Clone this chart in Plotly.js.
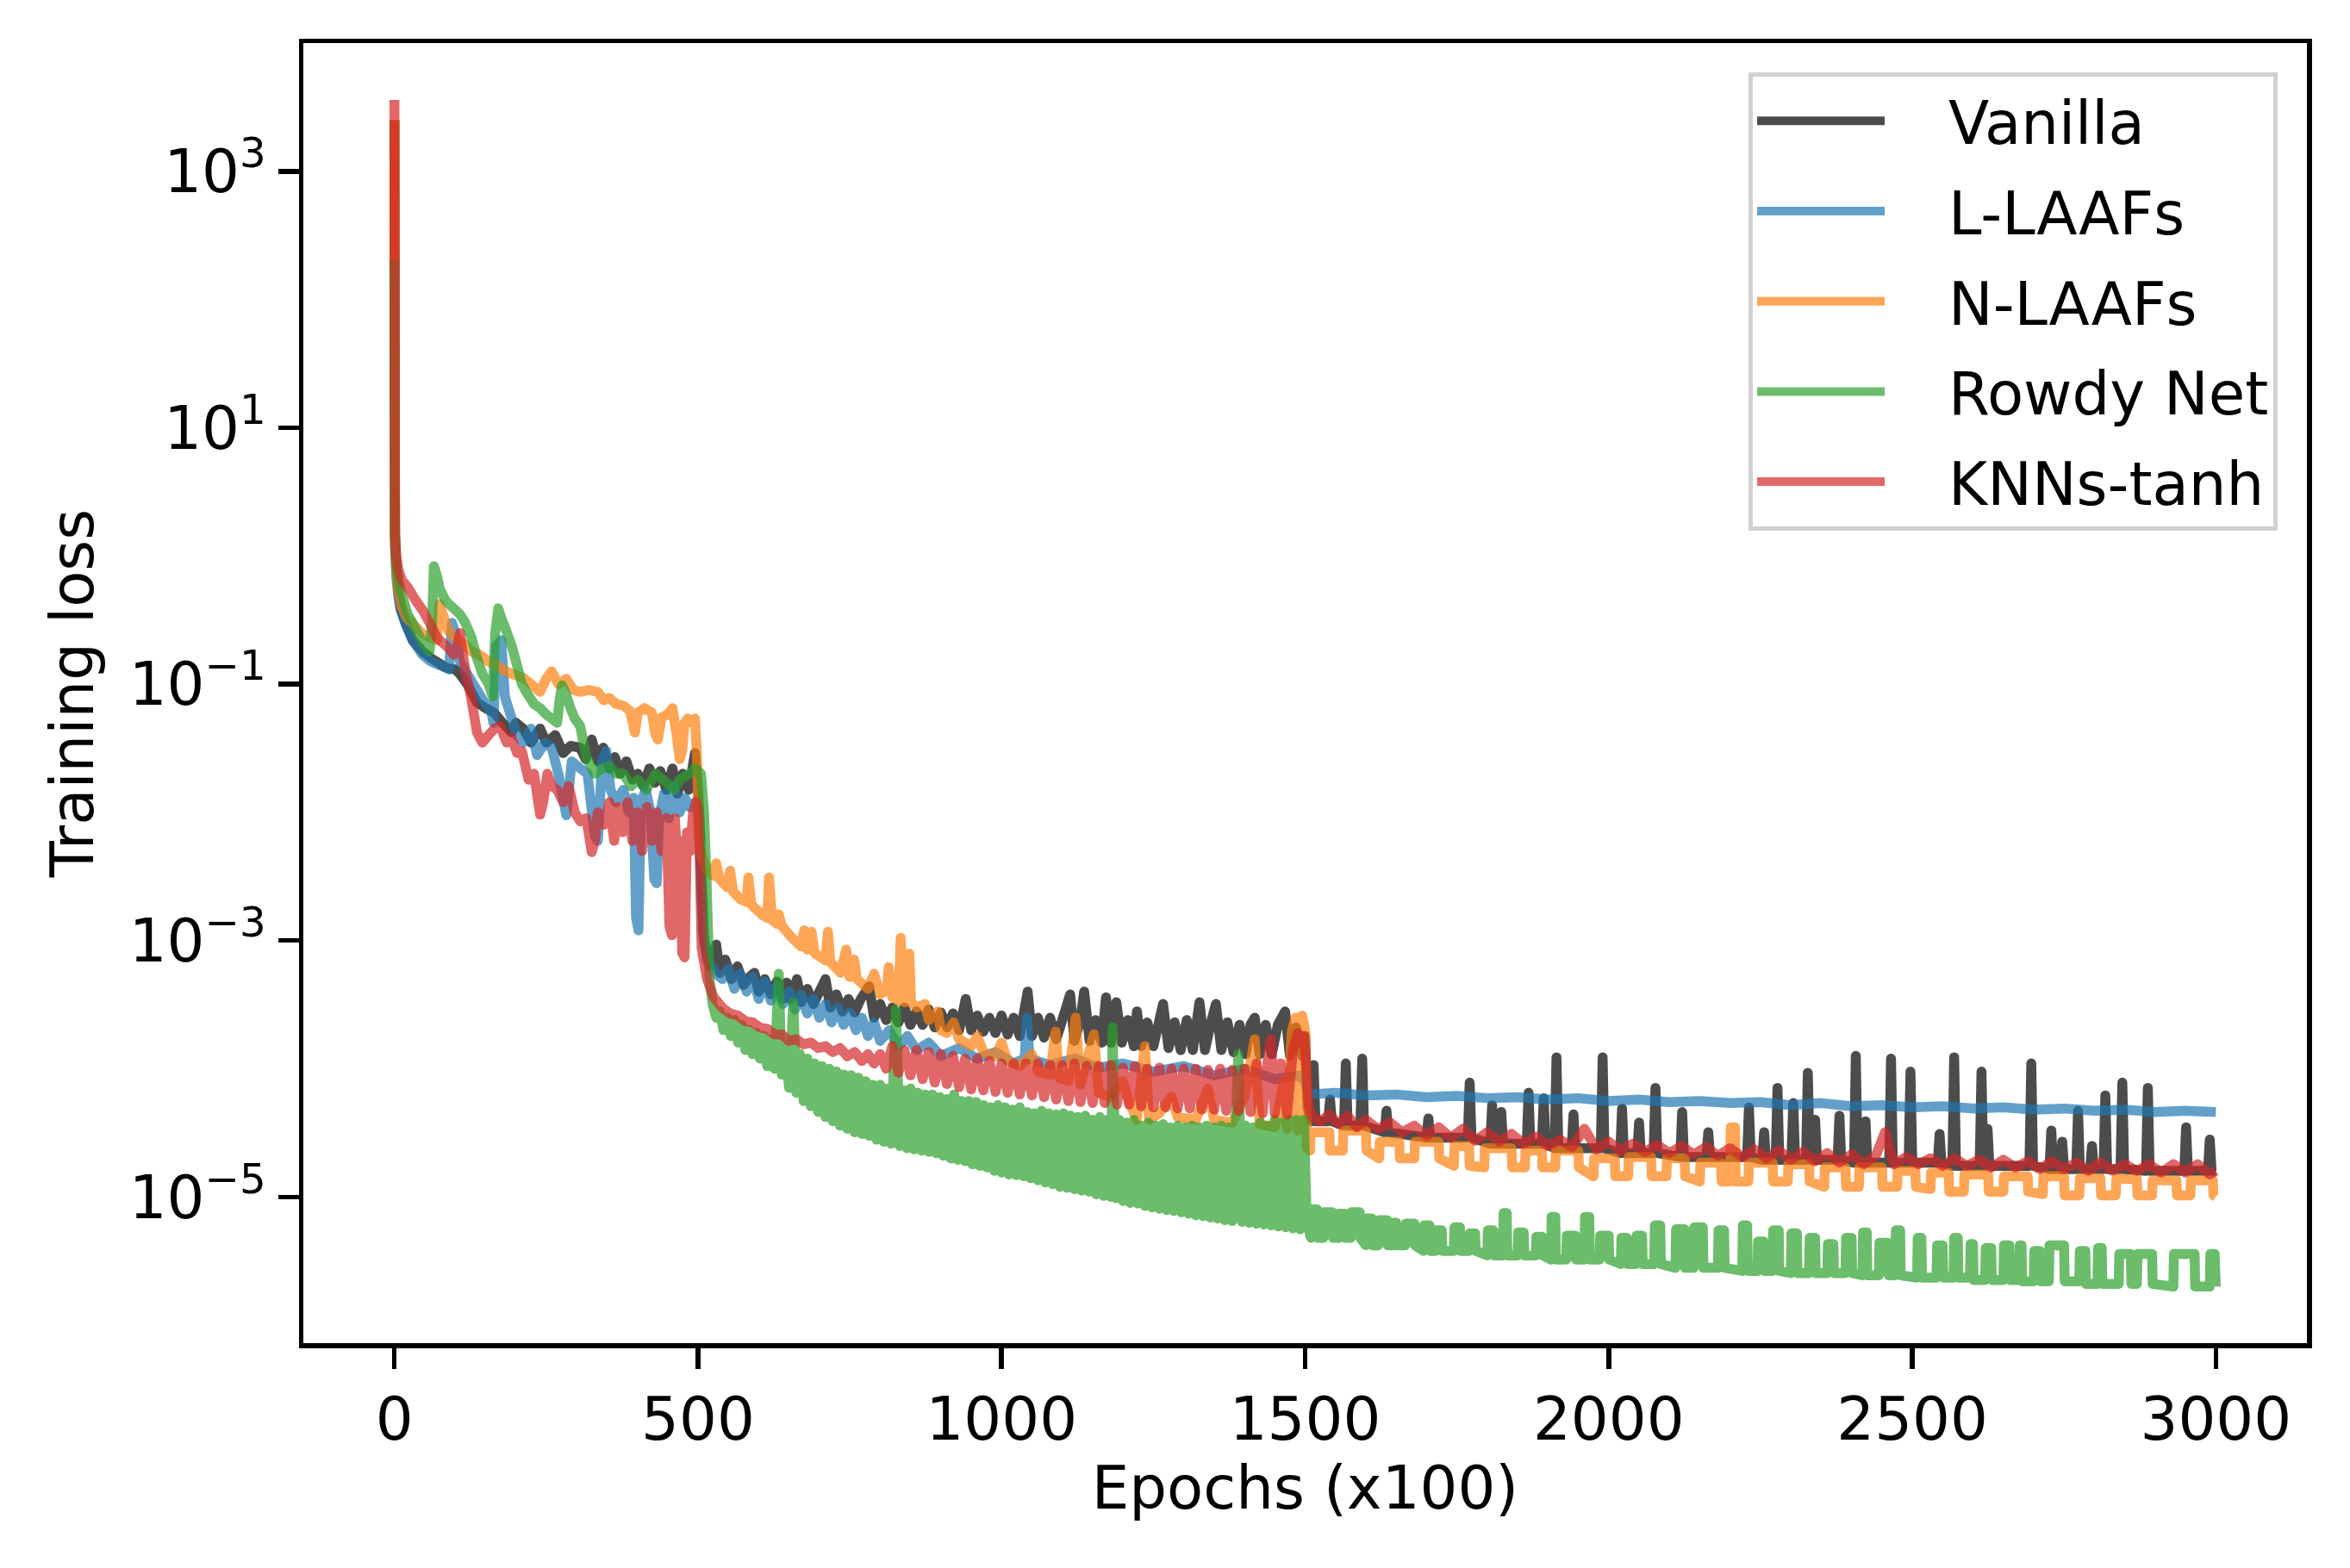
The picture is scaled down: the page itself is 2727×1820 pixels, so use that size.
<!DOCTYPE html>
<html>
<head>
<meta charset="utf-8">
<script src="https://cdn.plot.ly/plotly-3.0.1.min.js"></script>
<style>
html,body{margin:0;padding:0;background:#fff;}
#chart{width:2727px;height:1820px;}
.scatterlayer path.js-line{stroke-linejoin:round;stroke-linecap:butt;}
</style>
</head>
<body>
<div id="chart"></div>
<script>
// ---------- labels ----------
const seriesNames = ["Vanilla", "L-LAAFs", "N-LAAFs", "Rowdy Net", "KNNs-tanh"];
const xTickVals = [0, 500, 1000, 1500, 2000, 2500, 3000];
const xTickText = ["0", "500", "1000", "1500", "2000", "2500", "3000"];
const yTickVals = [1e3, 1e1, 1e-1, 1e-3, 1e-5];
const yTickText = ["10<sup>3</sup>", "10<sup>1</sup>", "10<sup>\u22121</sup>", "10<sup>\u22123</sup>", "10<sup>\u22125</sup>"];

// ---------- Vanilla ----------
const vanillaX = [0,1,3,6,10,18,30,46,60,84,100,108,120,136,150,164,178,193,200,212,225,240,250,265,278,290,306,315,325,335,344,354,363,372,382,392,401,410,420,429,438,448,458,466,475,485,495,500,503,506,510,
520,530,536,545,555,565,575,585,593,600,610,620,630,640,646,652,663,670,680,690,700,710,718,728,738,748,758,768,782,790,800,810,820,830,840,850,860,870,880,890,900,910,920,930,941,950,960,970,980,990,1000,1010,1020,1030,1043,1050,1060,1070,1080,1090,1100,1113,1120,1130,1136,1145,1155,1165,1172,1180,1189,1198,1208,1218,1223,1230,1240,1250,1260,1266,1275,1285,1295,1305,1315,1326,1335,1345,1353,1362,1372,1382,1392,1402,1410,1417,1425,1435,1445,1455,1467,1475,1485,1495,1500,1504,1508,
1511,1514,1517,1538,1541,1544,1564,1567,1570,1591,1594,1597,1631,1634,1637,1700,1703,1706,1768,1771,1774,1805,1808,1811,1820,1823,1826,1865,1868,1871,1890,1893,1896,1911,1914,1917,1939,1942,1945,1987,1990,1993,2019,2022,2025,2047,2050,2053,2074,2077,2080,2118,2121,2124,2161,2164,2167,2228,2231,2234,2253,2256,2259,2275,2278,2281,2301,2304,2307,2325,2328,2331,2337,2340,2343,2377,2380,2383,2404,2407,2410,2420,2423,2426,2462,2465,2468,2494,2497,2500,2542,2545,2548,2566,2569,2572,2611,2614,2617,2621,2624,2627,2693,2696,2699,2726,2729,2732,2744,2747,2750,2770,2773,2776,2793,2796,2799,2815,2818,2821,2843,2846,2849,2885,2888,2891,2948,2951,2954,2987,2990,2993,3000];
const vanillaY = [2500,1.5,0.9,0.55,0.4,0.3,0.22,0.18,0.16,0.135,0.13,0.12,0.1,0.072,0.065,0.06,0.05,0.042,0.05,0.045,0.035,0.045,0.035,0.04,0.029,0.033,0.032,0.026,0.037,0.025,0.032,0.022,0.027,0.02,0.025,0.018,0.02,0.016,0.022,0.017,0.021,0.015,0.022,0.014,0.02,0.015,0.029,0.015,0.008,0.003,1e-3,
6.3e-4,9.3e-4,5.6e-4,7.1e-4,5e-4,6.3e-4,4.5e-4,5.2e-4,5.6e-4,4e-4,5e-4,3.8e-4,4.8e-4,3.5e-4,4.7e-4,3.5e-4,5e-4,3.3e-4,4.2e-4,3.2e-4,4e-4,5e-4,3e-4,3.8e-4,2.8e-4,3.5e-4,2.75e-4,3.5e-4,4.4e-4,2.5e-4,3.2e-4,2.4e-4,3e-4,2.3e-4,3e-4,2.2e-4,2.8e-4,2.2e-4,2.9e-4,2.1e-4,2.75e-4,2.1e-4,2.7e-4,2e-4,3.5e-4,2e-4,2.6e-4,1.95e-4,2.5e-4,1.9e-4,2.6e-4,1.85e-4,2.5e-4,1.8e-4,4e-4,1.8e-4,2.5e-4,1.75e-4,2.5e-4,1.7e-4,2.4e-4,3.8e-4,1.65e-4,2.4e-4,4e-4,1.65e-4,2.4e-4,1.6e-4,3.6e-4,1.6e-4,3.3e-4,1.6e-4,2.4e-4,1.5e-4,2.8e-4,1.5e-4,2.3e-4,1.5e-4,2.4e-4,3.2e-4,1.45e-4,2.3e-4,1.4e-4,2.4e-4,1.4e-4,3.3e-4,1.4e-4,2.3e-4,3.2e-4,1.4e-4,2.3e-4,1.35e-4,2.2e-4,1.3e-4,2.2e-4,2.5e-4,1.3e-4,2.2e-4,1.3e-4,2.2e-4,2.8e-4,1.26e-4,2.1e-4,1.26e-4,1.8e-4,5e-5,4.2e-5,
3.9e-5,1.07e-4,3.9e-5,3.9e-5,5.75e-5,3.9e-5,3.6e-5,1.1e-4,3.6e-5,3.6e-5,1.2e-4,3.6e-5,3.2e-5,4.7e-5,3.2e-5,2.9e-5,4.1e-5,2.9e-5,2.9e-5,7.8e-5,2.9e-5,2.6e-5,5.2e-5,2.6e-5,2.6e-5,4.6e-5,2.6e-5,2.6e-5,6.5e-5,2.6e-5,2.6e-5,5.9e-5,2.6e-5,2.4e-5,1.23e-4,2.4e-5,2.4e-5,4.4e-5,2.4e-5,2.4e-5,1.23e-4,2.4e-5,2.2e-5,4.9e-5,2.2e-5,2.2e-5,3.8e-5,2.2e-5,2.2e-5,7.1e-5,2.2e-5,2.05e-5,4.6e-5,2.05e-5,2.05e-5,3.2e-5,2.05e-5,2.05e-5,5e-5,2.05e-5,1.95e-5,3.2e-5,1.95e-5,1.95e-5,7.1e-5,1.95e-5,1.95e-5,5.4e-5,1.95e-5,1.95e-5,9.3e-5,1.95e-5,1.95e-5,4e-5,1.95e-5,1.95e-5,4.3e-5,1.95e-5,1.85e-5,1.26e-4,1.85e-5,1.85e-5,3.9e-5,1.85e-5,1.85e-5,1.2e-4,1.85e-5,1.85e-5,9.5e-5,1.85e-5,1.85e-5,3.1e-5,1.85e-5,1.75e-5,1.23e-4,1.75e-5,1.75e-5,9.5e-5,1.75e-5,1.75e-5,3.4e-5,1.75e-5,1.75e-5,1.1e-4,1.75e-5,1.65e-5,3.3e-5,1.65e-5,1.65e-5,2.7e-5,1.65e-5,1.65e-5,4.7e-5,1.65e-5,1.65e-5,2.5e-5,1.65e-5,1.65e-5,6.2e-5,1.65e-5,1.65e-5,7.8e-5,1.65e-5,1.6e-5,7.1e-5,1.6e-5,1.6e-5,3.5e-5,1.6e-5,1.6e-5,2.8e-5,1.6e-5,1.6e-5];

// ---------- L-LAAFs ----------
const llaafX = [0,1,3,6,10,18,30,46,60,84,90,95,100,108,120,136,150,160,163,168,176,182,190,202,212,225,235,248,259,270,283,292,306,318,330,335,342,349,356,365,377,386,394,398,402,406,414,422,428,432,436,444,452,460,470,478,486,495,500,504,508,515,530,
540,550,560,570,580,590,600,610,620,630,640,650,660,670,680,690,700,710,720,730,740,750,760,770,780,790,800,815,830,845,860,880,900,930,960,990,1020,1038,1042,1046,1080,1120,1160,1200,1250,1300,1350,1400,1450,1490,1500,1505,
1550,1600,1650,1700,1750,1800,1850,1900,1950,2000,2050,2100,2150,2200,2250,2300,2350,2400,2450,2500,2550,2600,2650,2700,2750,2800,2850,2900,2950,3000];
const llaafY = [200,1.2,0.7,0.5,0.38,0.3,0.22,0.17,0.15,0.135,0.13,0.3,0.25,0.15,0.12,0.09,0.07,0.06,0.05,0.2,0.22,0.08,0.06,0.04,0.035,0.045,0.028,0.035,0.032,0.02,0.0095,0.025,0.022,0.02,0.0065,0.006,0.025,0.03,0.015,0.012,0.015,0.01,0.013,0.0015,0.0012,0.012,0.015,0.01,0.003,0.0028,0.009,0.014,0.009,0.016,0.01,0.013,0.011,0.012,0.01,0.004,0.0012,7e-4,5.5e-4,
5e-4,6e-4,4.2e-4,5.5e-4,4e-4,5.2e-4,3.5e-4,4.8e-4,3.4e-4,4.4e-4,3.2e-4,4e-4,2.9e-4,3.8e-4,2.7e-4,3.5e-4,2.5e-4,3.2e-4,2.3e-4,3e-4,2.2e-4,2.75e-4,2e-4,2.5e-4,1.8e-4,2.3e-4,1.65e-4,2e-4,1.5e-4,1.8e-4,1.4e-4,1.6e-4,1.26e-4,1.45e-4,1.2e-4,1.35e-4,1.1e-4,1.2e-4,2.5e-4,1.2e-4,1.07e-4,1.2e-4,1.02e-4,1.1e-4,9.5e-5,1.05e-4,8.9e-5,1e-4,8.3e-5,8.9e-5,8e-5,6.3e-5,
6.5e-5,6.2e-5,6.3e-5,6e-5,6.15e-5,5.9e-5,6e-5,5.75e-5,5.9e-5,5.6e-5,5.75e-5,5.5e-5,5.6e-5,5.4e-5,5.5e-5,5.2e-5,5.4e-5,5.1e-5,5.2e-5,5e-5,5.1e-5,4.9e-5,5e-5,4.8e-5,4.9e-5,4.7e-5,4.8e-5,4.6e-5,4.7e-5,4.6e-5];

// ---------- N-LAAFs ----------
const nlaafX = [0,1,3,6,12,20,32,45,60,70,74,80,89,100,108,118,127,140,155,170,183,195,212,225,240,250,259,270,283,295,306,320,335,345,354,365,377,388,396,401,412,424,430,434,440,450,458,465,470,474,478,483,490,495,498,502,507,
515,525,530,536,548,553,558,570,580,583,588,605,614,617,622,630,633,638,655,670,675,680,687,692,710,714,718,735,744,750,757,762,780,790,800,811,814,820,830,834,840,848,851,860,874,880,895,900,910,921,930,950,960,970,990,1000,1010,1030,1050,1060,1080,1089,1095,1110,1122,1130,1152,1160,1180,1200,1210,1223,1236,1243,1260,1280,1290,1320,1340,1350,1380,1400,1417,1425,1450,1465,1470,1478,1484,1488,1495,1500,1503,
1508,1509,1540,1541,1562,1563,1600,1601,1622,1623,1655,1656,1680,1681,1720,1721,1745,1746,1770,1771,1795,1796,1840,1841,1862,1863,1890,1891,1912,1913,1950,1951,1975,1976,2010,2011,2032,2033,2070,2071,2095,2096,2125,2126,2150,2151,2185,2186,2200,2201,2208,2209,2230,2231,2270,2271,2295,2296,2330,2331,2355,2356,2390,2391,2412,2413,2450,2451,2475,2476,2505,2506,2530,2531,2560,2561,2585,2586,2625,2626,2650,2651,2690,2691,2715,2716,2750,2751,2775,2776,2810,2811,2835,2836,2870,2871,2895,2896,2935,2936,2958,2959,2995,2996,3000];
const nlaafY = [2500,1.3,0.8,0.55,0.4,0.33,0.29,0.25,0.23,0.22,0.42,0.35,0.26,0.23,0.22,0.2,0.18,0.17,0.15,0.14,0.126,0.12,0.112,0.1,0.087,0.11,0.126,0.1,0.11,0.09,0.087,0.09,0.087,0.075,0.078,0.07,0.068,0.062,0.042,0.06,0.065,0.06,0.04,0.037,0.055,0.058,0.065,0.04,0.026,0.03,0.05,0.054,0.05,0.054,0.03,0.006,0.0044,
3.6e-3,3.2e-3,4e-3,3e-3,2.6e-3,3.5e-3,2.4e-3,2.1e-3,2e-3,3.1e-3,1.9e-3,1.6e-3,1.5e-3,3.1e-3,1.45e-3,1.35e-3,1.6e-3,1.3e-3,1.05e-3,9e-4,1.2e-3,8.5e-4,1.17e-3,8e-4,7e-4,1.17e-3,6.8e-4,5.6e-4,8.5e-4,5.2e-4,7.1e-4,5e-4,4.2e-4,5.5e-4,3.8e-4,4.1e-4,6.2e-4,3.6e-4,3.4e-4,1.05e-3,3.3e-4,7.9e-4,3.3e-4,3e-4,3.2e-4,2.4e-4,2.8e-4,2e-4,1.9e-4,2.3e-4,1.7e-4,1.5e-4,1.8e-4,1.35e-4,1.25e-4,1.6e-4,1.15e-4,1.05e-4,1.3e-4,9.5e-5,9e-5,1.95e-4,8.5e-5,8e-5,2.5e-4,7.5e-5,1.86e-4,6.5e-5,6e-5,8e-5,5.5e-5,4e-5,1.5e-4,4e-5,4.5e-5,6e-5,4.2e-5,4e-5,7e-5,4e-5,3.8e-5,6e-5,1.7e-4,3.7e-5,3.5e-5,8e-5,3.4e-5,1.95e-4,2.5e-4,3.3e-5,2.6e-4,2e-4,2.4e-5,
2.3e-5,3.2e-5,3.2e-5,2.3e-5,2.3e-5,3.3e-5,3.3e-5,2.3e-5,2e-5,2.7e-5,2.7e-5,2e-5,2e-5,2.7e-5,2.7e-5,2e-5,1.75e-5,2.5e-5,2.5e-5,1.75e-5,1.7e-5,2.4e-5,2.4e-5,1.7e-5,1.7e-5,2.3e-5,2.3e-5,1.7e-5,1.7e-5,2.3e-5,2.3e-5,1.7e-5,1.45e-5,2e-5,2e-5,1.45e-5,1.45e-5,2.05e-5,2.05e-5,1.45e-5,1.45e-5,2e-5,2e-5,1.45e-5,1.32e-5,1.85e-5,1.85e-5,1.32e-5,1.32e-5,3.5e-5,3.5e-5,1.32e-5,1.32e-5,1.85e-5,1.85e-5,1.32e-5,1.32e-5,1.8e-5,1.8e-5,1.32e-5,1.2e-5,1.7e-5,1.7e-5,1.2e-5,1.2e-5,1.7e-5,1.7e-5,1.2e-5,1.2e-5,1.6e-5,1.6e-5,1.2e-5,1.15e-5,1.55e-5,1.55e-5,1.1e-5,1.1e-5,1.5e-5,1.5e-5,1.1e-5,1.1e-5,1.45e-5,1.45e-5,1.1e-5,1.05e-5,1.45e-5,1.45e-5,1.03e-5,1.03e-5,1.4e-5,1.4e-5,1.03e-5,1.03e-5,1.38e-5,1.38e-5,1.03e-5,1.03e-5,1.35e-5,1.35e-5,1.03e-5,1.03e-5,1.35e-5,1.35e-5,1.03e-5,1.0e-5];

// ---------- Rowdy Net ----------
const rowdyX = [0,1,3,8,15,22,30,40,50,58,62,65,70,75,84,90,100,108,117,127,136,145,155,162,166,171,176,183,193,202,210,217,230,240,250,259,268,272,276,282,290,297,306,316,330,342,354,365,377,390,401,415,430,448,460,470,486,495,505,510,514,519,524,530,
536,542,548,554,560,566,572,578,584,590,596,602,608,614,620,626,633,638,644,650,657,662,668,674,680,686,692,698,704,710,716,722,728,734,740,746,752,758,764,770,776,782,788,794,800,806,812,818,826,832,838,844,850,856,862,868,874,880,886,892,898,904,910,916,922,928,934,940,946,952,958,964,970,976,982,988,994,1000,1006,1012,1018,1024,1030,1036,1042,1048,1054,1060,1066,1072,1078,1084,1090,1096,1102,1108,1114,1120,1126,1132,1138,1144,1150,1156,1162,1168,1174,1180,1183,1188,1194,1200,1206,1212,1218,1224,1230,1236,1242,1248,1254,1260,1266,1272,1278,1284,1290,1296,1302,1308,1314,1320,1326,1332,1338,1344,1350,1356,1362,1368,1374,1380,1390,1396,1402,1408,1414,1420,1426,1432,1438,1444,1450,1456,1462,1468,1474,1480,1486,1492,1498,1502,1508,
1510,1511,1520,1521,1530,1531,1545,1546,1555,1556,1565,1566,1575,1576,1590,1591,1600,1601,1610,1611,1620,1621,1635,1636,1645,1646,1650,1651,1665,1666,1680,1681,1695,1696,1705,1706,1715,1716,1725,1726,1745,1746,1755,1756,1770,1771,1780,1781,1800,1801,1810,1811,1826,1827,1832,1833,1850,1851,1860,1861,1880,1881,1890,1891,1905,1906,1912,1913,1930,1931,1945,1946,1960,1961,1968,1969,1985,1986,2000,2001,2020,2021,2030,2031,2045,2046,2055,2056,2075,2076,2085,2086,2110,2111,2125,2126,2140,2141,2155,2156,2180,2181,2190,2191,2220,2221,2228,2229,2245,2246,2255,2256,2270,2271,2280,2281,2300,2301,2310,2311,2330,2331,2340,2341,2360,2361,2370,2371,2390,2391,2400,2401,2418,2419,2425,2426,2445,2446,2460,2461,2472,2473,2480,2481,2508,2509,2515,2516,2540,2541,2550,2551,2568,2569,2575,2576,2595,2596,2600,2601,2620,2621,2630,2631,2650,2651,2660,2661,2676,2677,2680,2681,2700,2701,2710,2711,2725,2726,2750,2751,2775,2776,2785,2786,2805,2806,2812,2813,2840,2841,2860,2861,2870,2871,2895,2896,2930,2931,2965,2966,2990,2991,2998,3000];
const rowdyY = [200,1.2,0.8,0.6,0.45,0.35,0.3,0.24,0.2,0.18,0.3,0.83,0.7,0.55,0.45,0.42,0.38,0.35,0.3,0.23,0.16,0.12,0.1,0.08,0.25,0.39,0.33,0.27,0.2,0.14,0.1,0.087,0.07,0.065,0.058,0.054,0.05,0.075,0.098,0.085,0.065,0.054,0.047,0.027,0.02,0.022,0.023,0.02,0.02,0.016,0.018,0.015,0.02,0.017,0.015,0.018,0.02,0.022,0.02,0.01,0.003,5e-4,3.2e-4,2.5e-4,
2.8e-4,2e-4,2.5e-4,1.8e-4,2.4e-4,1.6e-4,2.2e-4,1.4e-4,2e-4,1.3e-4,1.9e-4,1.2e-4,1.8e-4,1.05e-4,1.7e-4,1e-4,5.5e-4,9e-5,1.5e-4,7.1e-5,3.3e-4,6.5e-5,1.3e-4,5.6e-5,1.2e-4,5.1e-5,1.1e-4,4.6e-5,1.05e-4,4.2e-5,1e-4,3.9e-5,9.5e-5,3.6e-5,9e-5,3.4e-5,8.9e-5,3.2e-5,8.5e-5,3.1e-5,8e-5,3e-5,7.5e-5,2.8e-5,7.5e-5,2.7e-5,7e-5,2.6e-5,2.9e-4,2.5e-5,6.8e-5,2.4e-5,7e-5,2.35e-5,6.5e-5,2.3e-5,6.3e-5,2.25e-5,6.3e-5,2.2e-5,6e-5,2.1e-5,5.8e-5,2e-5,6.3e-5,1.95e-5,5.6e-5,1.9e-5,5.6e-5,1.8e-5,5.5e-5,1.75e-5,5.2e-5,1.7e-5,5e-5,1.6e-5,5.2e-5,1.55e-5,5e-5,1.5e-5,4.8e-5,1.48e-5,5e-5,1.45e-5,4.6e-5,1.4e-5,4.5e-5,1.35e-5,4.7e-5,1.3e-5,4.5e-5,1.26e-5,4.4e-5,1.2e-5,4.5e-5,1.18e-5,4.3e-5,1.15e-5,4.2e-5,1.12e-5,4.3e-5,1.1e-5,4e-5,1.05e-5,4.2e-5,1.02e-5,4e-5,1e-5,2.1e-4,9.8e-6,4e-5,9.3e-6,3.8e-5,9e-6,4e-5,8.9e-6,3.6e-5,8.5e-6,3.8e-5,8.3e-6,3.6e-5,8.1e-6,3.7e-5,7.9e-6,3.5e-5,7.8e-6,3.6e-5,7.6e-6,3.5e-5,7.4e-6,3.6e-5,7.2e-6,3.5e-5,7.1e-6,3.6e-5,6.9e-6,3.5e-5,6.8e-6,3.6e-5,6.6e-6,3.5e-5,6.5e-6,1.3e-4,6.4e-6,3.6e-5,6.3e-6,3.5e-5,6.2e-6,3.8e-5,6.1e-6,3.6e-5,6e-6,4e-5,5.9e-6,3.8e-5,5.8e-6,4e-5,5.7e-6,4e-5,5.6e-6,4e-5,8.5e-6,5e-6,
4.8e-6,8e-6,8e-6,4.8e-6,4.8e-6,7.6e-6,7.6e-6,4.8e-6,4.8e-6,7.4e-6,7.4e-6,4.8e-6,4.8e-6,7.6e-6,7.6e-6,4.8e-6,4.2e-6,6.8e-6,6.8e-6,4.2e-6,4.2e-6,6.6e-6,6.6e-6,4.2e-6,4.2e-6,6.3e-6,6.3e-6,4.2e-6,4.2e-6,6.2e-6,6.2e-6,4.2e-6,3.8e-6,6e-6,6e-6,3.8e-6,3.8e-6,5.5e-6,5.5e-6,3.8e-6,3.8e-6,5.8e-6,5.8e-6,3.8e-6,3.8e-6,5.2e-6,5.2e-6,3.8e-6,3.5e-6,5.5e-6,5.5e-6,3.5e-6,3.5e-6,7.5e-6,7.5e-6,3.5e-6,3.5e-6,5.3e-6,5.3e-6,3.5e-6,3.5e-6,4.9e-6,4.9e-6,3.5e-6,3.25e-6,7e-6,7e-6,3.25e-6,3.25e-6,5e-6,5e-6,3.25e-6,3.25e-6,7e-6,7e-6,3.25e-6,3.25e-6,5e-6,5e-6,3.25e-6,3e-6,4.8e-6,4.8e-6,3e-6,3e-6,5e-6,5e-6,3e-6,3e-6,6e-6,6e-6,3e-6,2.8e-6,5.6e-6,5.6e-6,2.8e-6,2.8e-6,5.8e-6,5.8e-6,2.8e-6,2.8e-6,5.5e-6,5.5e-6,2.8e-6,2.65e-6,6e-6,6e-6,2.65e-6,2.65e-6,4.5e-6,4.5e-6,2.65e-6,2.65e-6,5.5e-6,5.5e-6,2.65e-6,2.55e-6,5.2e-6,5.2e-6,2.55e-6,2.55e-6,4.8e-6,4.8e-6,2.55e-6,2.55e-6,4.3e-6,4.3e-6,2.55e-6,2.55e-6,4.8e-6,4.8e-6,2.55e-6,2.45e-6,5.3e-6,5.3e-6,2.45e-6,2.45e-6,4.4e-6,4.4e-6,2.45e-6,2.45e-6,5.5e-6,5.5e-6,2.45e-6,2.35e-6,4.8e-6,4.8e-6,2.35e-6,2.35e-6,4.2e-6,4.2e-6,2.35e-6,2.35e-6,4.8e-6,4.8e-6,2.35e-6,2.35e-6,4.3e-6,4.3e-6,2.25e-6,2.25e-6,4e-6,4e-6,2.25e-6,2.25e-6,4.2e-6,4.2e-6,2.25e-6,2.25e-6,4.2e-6,4.2e-6,2.2e-6,2.2e-6,3.8e-6,3.8e-6,2.2e-6,2.2e-6,4.2e-6,4.2e-6,2.2e-6,2.2e-6,3.8e-6,3.8e-6,2.1e-6,2.1e-6,4e-6,4e-6,2.1e-6,2.1e-6,3.6e-6,3.6e-6,2.1e-6,2.1e-6,3.6e-6,3.6e-6,2.1e-6,2.0e-6,3.6e-6,3.6e-6,2.0e-6,2.0e-6,3.6e-6,3.6e-6,2.0e-6];

// ---------- KNNs-tanh ----------
const knnX = [0,1,3,6,12,22,35,46,58,70,85,98,104,108,112,117,126,136,145,155,165,174,185,193,202,210,221,230,240,245,252,259,268,278,287,297,306,316,325,330,335,345,354,362,368,376,384,392,400,408,416,424,432,440,448,453,457,462,466,470,474,478,482,487,492,497,500,503,506,515,526,
540,553,566,578,590,602,614,626,638,650,662,674,686,698,710,722,734,746,758,770,780,790,800,810,820,830,840,850,860,870,880,890,900,910,920,930,940,950,960,970,980,990,1000,1010,1020,1030,1040,1050,1060,1070,1080,1090,1100,1110,1120,1130,1140,1150,1160,1170,1180,1190,1200,1210,1220,1230,1240,1250,1260,1270,1280,1290,1300,1310,1320,1330,1340,1350,1360,1370,1380,1390,1400,1410,1420,1430,1440,1444,1450,1460,1470,1480,1488,1494,1498,1502,1506,1512,
1525,1540,1555,1570,1585,1600,1620,1640,1660,1680,1700,1720,1740,1760,1780,1800,1820,1840,1860,1880,1900,1920,1940,1960,1980,2000,2020,2040,2060,2080,2100,2120,2140,2160,2180,2200,2220,2240,2260,2280,2300,2320,2340,2360,2380,2400,2420,2440,2455,2470,2490,2510,2530,2550,2570,2590,2610,2630,2650,2670,2690,2710,2730,2750,2770,2790,2810,2830,2850,2870,2890,2910,2930,2950,2970,2990,3000];
const knnY = [3600,1.4,1.0,0.8,0.65,0.57,0.45,0.38,0.3,0.23,0.2,0.17,0.2,0.25,0.18,0.126,0.08,0.042,0.035,0.04,0.045,0.047,0.035,0.038,0.029,0.03,0.018,0.02,0.0096,0.012,0.02,0.016,0.015,0.012,0.016,0.01,0.0085,0.009,0.0049,0.006,0.01,0.008,0.012,0.006,0.011,0.007,0.012,0.006,0.01,0.005,0.011,0.006,0.01,0.005,0.009,0.0013,0.0011,0.009,0.004,0.006,8e-4,7.4e-4,0.007,0.005,0.01,0.012,0.01,0.004,8.7e-4,5e-4,3.6e-4,
3e-4,2.7e-4,2.6e-4,2.35e-4,2.3e-4,2.1e-4,2.05e-4,1.85e-4,1.85e-4,1.65e-4,1.7e-4,1.55e-4,1.6e-4,1.45e-4,1.5e-4,1.35e-4,1.45e-4,1.25e-4,1.35e-4,1.15e-4,1.3e-4,1.1e-4,1.3e-4,1e-4,1.5e-4,9.3e-5,1.4e-4,8.9e-5,1.4e-4,8.3e-5,1.35e-4,7.8e-5,1.3e-4,7.6e-5,1.26e-4,7.2e-5,1.2e-4,6.9e-5,1.2e-4,6.8e-5,1.15e-4,6.6e-5,1.1e-4,6.5e-5,1.1e-4,6.3e-5,1.1e-4,6.2e-5,1.1e-4,6e-5,1.07e-4,5.75e-5,1.07e-4,5.6e-5,1.1e-4,5.5e-5,1.05e-4,5.4e-5,1.05e-4,5.4e-5,1.07e-4,5.25e-5,1.02e-4,5.25e-5,1.05e-4,5.1e-5,1e-4,5e-5,1.02e-4,5e-5,1e-4,4.9e-5,1e-4,4.9e-5,1e-4,4.8e-5,9.8e-5,4.8e-5,1e-4,4.7e-5,9.8e-5,4.7e-5,1e-4,4.6e-5,1.1e-4,4.5e-5,1.4e-4,1.7e-4,4.5e-5,1.1e-4,4.4e-5,1.4e-4,1.9e-4,1.6e-4,1.8e-4,1e-4,5e-5,4.2e-5,
3.9e-5,4.4e-5,3.7e-5,4.3e-5,3.5e-5,4e-5,3.4e-5,3.8e-5,3.2e-5,3.6e-5,3e-5,3.5e-5,2.9e-5,3.4e-5,2.75e-5,3.2e-5,2.7e-5,3.1e-5,2.6e-5,2.95e-5,2.5e-5,2.8e-5,2.45e-5,3.4e-5,2.35e-5,2.7e-5,2.3e-5,2.6e-5,2.25e-5,2.55e-5,2.2e-5,2.5e-5,2.15e-5,2.45e-5,2.1e-5,2.4e-5,2.05e-5,2.35e-5,2e-5,2.3e-5,1.95e-5,2.25e-5,1.9e-5,2.2e-5,1.85e-5,2.15e-5,1.8e-5,2.1e-5,3.2e-5,1.8e-5,2.05e-5,1.8e-5,2e-5,1.75e-5,2e-5,1.75e-5,1.95e-5,1.7e-5,1.95e-5,1.7e-5,1.9e-5,1.65e-5,1.9e-5,1.65e-5,1.85e-5,1.6e-5,1.85e-5,1.6e-5,1.8e-5,1.6e-5,1.8e-5,1.55e-5,1.8e-5,1.55e-5,1.8e-5,1.5e-5,1.6e-5];

// ---------- figure ----------
const colors = ["#000000", "#1f77b4", "#ff7f0e", "#2ca02c", "#d62728"];
const xs = [vanillaX, llaafX, nlaafX, rowdyX, knnX];
const ys = [vanillaY, llaafY, nlaafY, rowdyY, knnY];

// an em space keeps the gap between the legend handle and its label
const traces = seriesNames.map((name, i) => ({
  type: "scatter",
  mode: "lines",
  name: "\u2003" + name,
  x: xs[i],
  y: ys[i],
  opacity: 0.7,
  legendgroup: "g" + i,
  line: {color: colors[i], width: 11.5, simplify: false},
  hoverinfo: "skip"
}));

const axisFont = {family: "DejaVu Sans", size: 69, color: "#000"};

const layout = {
  width: 2727,
  height: 1820,
  margin: {l: 352, r: 50, t: 50, b: 261, pad: 0},
  paper_bgcolor: "#ffffff",
  plot_bgcolor: "#ffffff",
  font: axisFont,
  showlegend: true,
  legend: {
    x: 0.9854, y: 0.9775, xanchor: "right", yanchor: "top",
    bgcolor: "#ffffff", bordercolor: "#d0d0d0", borderwidth: 5,
    font: axisFont, itemwidth: 148, tracegroupgap: 12
  },
  xaxis: {
    range: [-150, 3150],
    tickmode: "array", tickvals: xTickVals, ticktext: xTickText,
    ticks: "outside", ticklen: 24, tickwidth: 5.5, tickcolor: "#000",
    showline: true, linecolor: "#000", linewidth: 5.5, mirror: true,
    showgrid: false, zeroline: false, tickfont: axisFont,
    title: {text: "Epochs (x100)", font: axisFont, standoff: 15}
  },
  yaxis: {
    type: "log",
    range: [-6.14, 4.0],
    tickmode: "array", tickvals: yTickVals, ticktext: yTickText,
    ticks: "outside", ticklen: 24, tickwidth: 5.5, tickcolor: "#000",
    showline: true, linecolor: "#000", linewidth: 5.5, mirror: true,
    showgrid: false, zeroline: false, tickfont: axisFont,
    title: {text: "Training loss", font: axisFont, standoff: 20}
  }
};

Plotly.newPlot("chart", traces, layout, {displayModeBar: false, staticPlot: true});
</script>
</body>
</html>
